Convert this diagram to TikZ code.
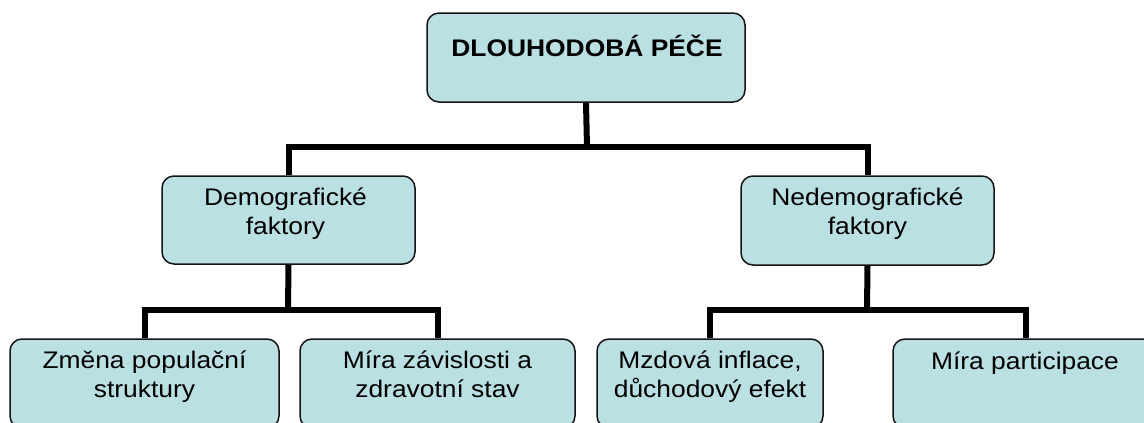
\documentclass[tikz,border=0pt]{standalone}
\usepackage{fontspec}
\setmainfont{Liberation Sans}[FakeStretch=1.1]
\usetikzlibrary{calc}
\definecolor{boxfill}{RGB}{187,224,227}
\definecolor{boxline}{RGB}{20,20,20}
\tikzset{
  box/.style={draw=boxline, line width=1.5pt, fill=boxfill, rounded corners=12pt, inner sep=0pt},
  lbl/.style={anchor=base, align=center, inner sep=0pt, font=\fontsize{24}{29}\selectfont},
  conn/.style={draw=black, line width=6pt, line join=miter, line cap=butt}
}
\begin{document}
\begin{tikzpicture}[x=1pt,y=-1pt]
\useasboundingbox (0,0) rectangle (1144,423);
\clip (0,0) rectangle (1144,423);
% boxes
\node[box, minimum width=318pt, minimum height=89pt] (top) at (586,57.5) {};
\node[box, minimum width=253pt, minimum height=88pt] (demo) at (288.5,220) {};
\node[box, minimum width=253pt, minimum height=89pt] (nedemo) at (867.5,220.5) {};
\node[box, minimum width=269pt, minimum height=89pt] (b1) at (144.5,383.5) {};
\node[box, minimum width=275pt, minimum height=89pt] (b2) at (437.5,383.5) {};
\node[box, minimum width=226pt, minimum height=89pt] (b3) at (710,383.5) {};
\node[box, minimum width=266pt, minimum height=89pt] (b4) at (1026,383.5) {};
% junctions
\coordinate (j1) at (587,147);
\coordinate (j2) at (288,310);
\coordinate (j3) at (867,310);
% connectors
\draw[conn] (top.south) -- (j1);
\draw[conn] (demo.north) |- (j1) -| (nedemo.north);
\draw[conn] (demo.south) -- (j2);
\draw[conn] (b1.north) |- (j2) -| (b2.north);
\draw[conn] (nedemo.south) -- (j3);
\draw[conn] (b3.north) |- (j3) -| (b4.north);
% labels (base = baseline of last line)
\node[lbl, font=\fontsize{24}{29}\selectfont\bfseries] (ttop) at ($(top.north)+(1,44)$) {DLOUHODOBÁ PÉČE};
\node[lbl] (tdemo) at ($(demo.north)+(-3,59)$) {Demografické\\faktory};
\node[lbl] (tnedemo) at ($(nedemo.north)+(0,59)$) {Nedemografické\\faktory};
\node[lbl] (tb1) at ($(b1.north)+(0,59.5)$) {Změna populační\\struktury};
\node[lbl] (tb2) at ($(b2.north)+(0,59.5)$) {Míra závislosti a\\zdravotní stav};
\node[lbl] (tb3) at ($(b3.north)+(0,59.5)$) {Mzdová inflace,\\důchodový efekt};
\node[lbl] (tb4) at ($(b4.north)+(-1,31)$) {Míra participace};
\end{tikzpicture}
\end{document}
